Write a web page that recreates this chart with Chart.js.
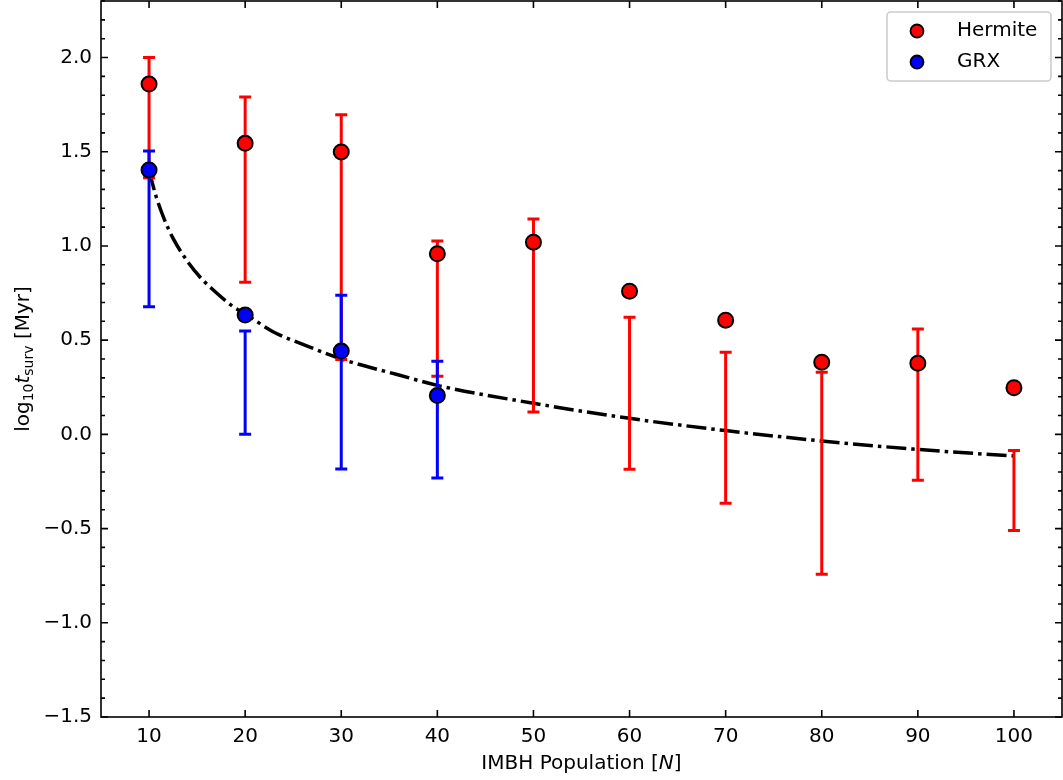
<!DOCTYPE html>
<html>
<head>
<meta charset="utf-8">
<script src="https://cdn.jsdelivr.net/npm/chart.js@4.4.0/dist/chart.umd.min.js"></script>
<style>
  body { margin: 0; background: #fff; }
  canvas { display: block; }
</style>
</head>
<body>
<canvas id="survChart" width="1063" height="780"></canvas>
<script>
// IMBH population sizes
const imbhN = [10, 20, 30, 40, 50, 60, 70, 80, 90, 100];
const hermiteT = [1.859, 1.545, 1.499, 0.958, 1.02, 0.76, 0.606, 0.383, 0.378, 0.248];
const hermiteLow = [1.362, 0.807, 0.397, 0.309, 0.119, -0.185, -0.366, -0.743, -0.244, -0.51];
const hermiteHigh = [2.0, 1.79, 1.696, 1.026, 1.143, 0.622, 0.436, 0.33, 0.559, -0.085];

const grxN = [10, 20, 30, 40];
const grxT = [1.403, 0.633, 0.442, 0.206];
const grxLow = [0.677, 0.0, -0.184, -0.232];
const grxHigh = [1.504, 0.548, 0.739, 0.388];

// dash-dot fit curve
const fitN = [10, 10.75, 11.6, 12.5, 13.9, 15.3, 16.6, 18.7, 20, 22.9, 26.4, 30, 36, 40, 50, 60, 70, 80, 90, 100];
const fitT = [1.40, 1.26, 1.14, 1.04, 0.925, 0.835, 0.77, 0.68, 0.64, 0.545, 0.47, 0.40, 0.315, 0.26, 0.165, 0.085, 0.02, -0.035, -0.08, -0.115];

const xTicks = [10, 20, 30, 40, 50, 60, 70, 80, 90, 100];
const yTicks = [-1.5, -1.0, -0.5, 0.0, 0.5, 1.0, 1.5, 2.0];

const FONT = "'DejaVu Sans', sans-serif";
Chart.defaults.font.family = FONT;
Chart.defaults.font.size = 20;
Chart.defaults.color = "#000";

function pts(xs, ys) {
    return xs.map((x, i) => ({ x: x, y: ys[i] }));
}

function fmt(v) {
    return v.toFixed(1).replace("-", "\u2212");
}

// error bars go on top of the fit line, under the markers
const errorBars = {
    id: "errorBars",
    afterDatasetDraw(chart, args) {
        if (args.index !== 2) return;
        const ctx = chart.ctx, sx = chart.scales.x, sy = chart.scales.y;
        const draw = (ns, lo, hi, color) => {
            ctx.save();
            ctx.strokeStyle = color;
            ctx.lineWidth = 3;
            ns.forEach((n, i) => {
                const px = sx.getPixelForValue(n);
                const y1 = sy.getPixelForValue(lo[i]);
                const y2 = sy.getPixelForValue(hi[i]);
                ctx.beginPath();
                ctx.moveTo(px, y1); ctx.lineTo(px, y2);
                ctx.moveTo(px - 6, y1); ctx.lineTo(px + 6, y1);
                ctx.moveTo(px - 6, y2); ctx.lineTo(px + 6, y2);
                ctx.stroke();
            });
            ctx.restore();
        };
        draw(imbhN, hermiteLow, hermiteHigh, "#ff0000");
        draw(grxN, grxLow, grxHigh, "#0000ff");
    }
};

// box + inward ticks on all four sides
const frame = {
    id: "frame",
    afterDraw(chart) {
        const { ctx, chartArea: a } = chart;
        const sx = chart.scales.x, sy = chart.scales.y;
        ctx.save();
        ctx.strokeStyle = "#000";
        ctx.lineWidth = 1.6;
        ctx.strokeRect(a.left, a.top, a.right - a.left, a.bottom - a.top);
        ctx.beginPath();
        xTicks.forEach(v => {
            const p = sx.getPixelForValue(v);
            ctx.moveTo(p, a.bottom); ctx.lineTo(p, a.bottom - 7);
            ctx.moveTo(p, a.top); ctx.lineTo(p, a.top + 7);
        });
        for (let k = -15; k <= 23; k++) {
            const p = sy.getPixelForValue(k / 10);
            const len = k % 5 === 0 ? 7 : 4;
            ctx.moveTo(a.left, p); ctx.lineTo(a.left + len, p);
            ctx.moveTo(a.right, p); ctx.lineTo(a.right - len, p);
        }
        ctx.stroke();
        ctx.restore();
    }
};

function drawParts(ctx, parts, x0, y0) {
    parts.forEach(p => {
        ctx.font = p.font;
        ctx.fillText(p.text, x0, y0 + (p.dy || 0));
        x0 += ctx.measureText(p.text).width;
    });
}

function partsWidth(ctx, parts) {
    let w = 0;
    parts.forEach(p => { ctx.font = p.font; w += ctx.measureText(p.text).width; });
    return w;
}

const axisTitles = {
    id: "axisTitles",
    afterDraw(chart) {
        const { ctx, chartArea: a } = chart;
        const normal = "20px " + FONT, italic = "italic 20px " + FONT, small = "14px " + FONT;
        ctx.save();
        ctx.fillStyle = "#000";
        ctx.textBaseline = "alphabetic";
        ctx.textAlign = "left";

        const xParts = [
            { text: "IMBH Population [", font: normal },
            { text: "N", font: italic },
            { text: "]", font: normal }
        ];
        const cx = (a.left + a.right) / 2;
        drawParts(ctx, xParts, cx - partsWidth(ctx, xParts) / 2, 769);

        const yParts = [
            { text: "log", font: normal },
            { text: "10", font: small, dy: 4 },
            { text: "t", font: italic },
            { text: "surv", font: small, dy: 4 },
            { text: " [Myr]", font: normal }
        ];
        ctx.translate(29, (a.top + a.bottom) / 2);
        ctx.rotate(-Math.PI / 2);
        drawParts(ctx, yParts, -partsWidth(ctx, yParts) / 2, 0);
        ctx.restore();
    }
};

const legendBox = {
    id: "legendBox",
    afterDraw(chart) {
        const ctx = chart.ctx;
        const items = chart.data.datasets.slice(0, 2);
        ctx.save();
        ctx.beginPath();
        ctx.roundRect(887, 12, 164, 69, 4);
        ctx.fillStyle = "rgba(255,255,255,0.8)";
        ctx.fill();
        ctx.strokeStyle = "#cccccc";
        ctx.lineWidth = 1.6;
        ctx.stroke();
        items.forEach((ds, i) => {
            const y = 31 + i * 31;
            ctx.beginPath();
            ctx.arc(917, y, 6.5, 0, Math.PI * 2);
            ctx.fillStyle = ds.pointBackgroundColor;
            ctx.fill();
            ctx.strokeStyle = "#000";
            ctx.lineWidth = 1.8;
            ctx.stroke();
            ctx.fillStyle = "#000";
            ctx.font = "20px " + FONT;
            ctx.textBaseline = "middle";
            ctx.fillText(ds.label, 957, y);
        });
        ctx.restore();
    }
};

new Chart(document.getElementById("survChart"), {
    type: "line",
    data: {
        datasets: [
            {
                label: "Hermite",
                data: pts(imbhN, hermiteT),
                showLine: false,
                pointRadius: 7.5,
                pointBackgroundColor: "#ff0000",
                pointBorderColor: "#000",
                pointBorderWidth: 2,
                order: 1
            },
            {
                label: "GRX",
                data: pts(grxN, grxT),
                showLine: false,
                pointRadius: 7.5,
                pointBackgroundColor: "#0000ff",
                pointBorderColor: "#000",
                pointBorderWidth: 2,
                order: 0
            },
            {
                label: "fit",
                data: pts(fitN, fitT),
                borderColor: "#000",
                borderWidth: 3.5,
                borderDash: [20, 5, 3.5, 5],
                pointRadius: 0,
                cubicInterpolationMode: "monotone",
                fill: false,
                order: 2
            }
        ]
    },
    options: {
        responsive: false,
        animation: false,
        devicePixelRatio: 1,
        layout: { autoPadding: false, padding: { left: 0, right: 1, top: 1, bottom: 0 } },
        plugins: {
            legend: { display: false },
            tooltip: { enabled: false }
        },
        scales: {
            x: {
                type: "linear",
                min: 5,
                max: 105,
                grid: { display: false, drawTicks: false },
                border: { display: false },
                ticks: { padding: 8, maxRotation: 0, callback: v => String(v) },
                afterBuildTicks: s => { s.ticks = xTicks.map(v => ({ value: v })); },
                afterFit: s => { s.height = 63; s.paddingLeft = 0; s.paddingRight = 0; }
            },
            y: {
                type: "linear",
                min: -1.5,
                max: 2.3,
                grid: { display: false, drawTicks: false },
                border: { display: false },
                ticks: { padding: 9, callback: v => fmt(v) },
                afterBuildTicks: s => { s.ticks = yTicks.map(v => ({ value: v })); },
                afterFit: s => { s.width = 101; s.paddingTop = 0; s.paddingBottom = 0; }
            }
        }
    },
    plugins: [errorBars, frame, axisTitles, legendBox]
});
</script>
</body>
</html>
